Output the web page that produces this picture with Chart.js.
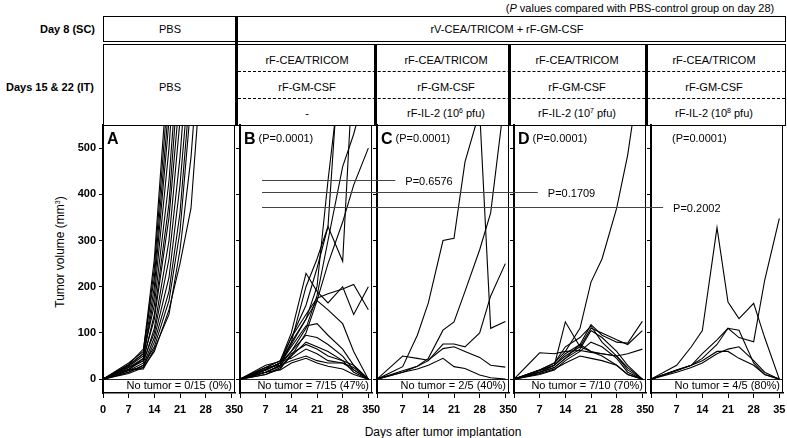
<!DOCTYPE html>
<html>
<head>
<meta charset="utf-8">
<script src="https://cdn.jsdelivr.net/npm/chart.js@4.4.0/dist/chart.umd.min.js"></script>
<style>
  html, body { margin: 0; padding: 0; background: #fff; overflow: hidden; }
  body { width: 787px; height: 438px; position: relative; font-family: "Liberation Sans", Arial, sans-serif; color: #000; }
  .box { position: absolute; box-sizing: border-box; border: 1px solid #000; }
  .vbar { position: absolute; width: 3px; background: #000; }
  .dash { position: absolute; height: 0; border-top: 1px dashed #000; }
  .t { position: absolute; transform: translate(-50%, -50%); white-space: nowrap; font-size: 11px; }
  .lbl { position: absolute; transform: translateY(-50%); white-space: nowrap; font-size: 11px; font-weight: bold; text-align: right; }
  sup { font-size: 7px; vertical-align: 4px; line-height: 0; }
  .panel { position: absolute; }
</style>
</head>
<body>
<!-- header table -->
<div class="t" style="left:640px;top:8px;">(<i>P</i> values compared with PBS-control group on day 28)</div>
<div class="box" style="left:103px;top:16px;width:683px;height:26px;"></div>
<div class="box" style="left:103px;top:44px;width:683px;height:82px;"></div>
<div class="vbar" style="left:235px;top:16px;height:110px;"></div>
<div class="vbar" style="left:374px;top:44px;height:82px;"></div>
<div class="vbar" style="left:508px;top:44px;height:82px;"></div>
<div class="vbar" style="left:645px;top:44px;height:82px;"></div>
<div class="dash" style="left:238px;top:71px;width:547px;"></div>
<div class="dash" style="left:238px;top:98px;width:547px;"></div>

<div class="lbl" style="right:692px;top:29px;">Day 8 (SC)</div>
<div class="lbl" style="right:693px;top:87px;">Days 15 &amp; 22 (IT)</div>

<div class="t" style="left:170px;top:29px;">PBS</div>
<div class="t" style="left:507px;top:29px;">rV-CEA/TRICOM + rF-GM-CSF</div>
<div class="t" style="left:170px;top:87px;">PBS</div>

<div class="t" style="left:307px;top:60px;">rF-CEA/TRICOM</div>
<div class="t" style="left:307px;top:87px;">rF-GM-CSF</div>
<div class="t" style="left:307px;top:113px;">-</div>

<div class="t" style="left:446px;top:60px;">rF-CEA/TRICOM</div>
<div class="t" style="left:446px;top:87px;">rF-GM-CSF</div>
<div class="t" style="left:446px;top:113px;">rF-IL-2 (10<sup>6</sup> pfu)</div>

<div class="t" style="left:577px;top:60px;">rF-CEA/TRICOM</div>
<div class="t" style="left:577px;top:87px;">rF-GM-CSF</div>
<div class="t" style="left:577px;top:113px;">rF-IL-2 (10<sup>7</sup> pfu)</div>

<div class="t" style="left:714px;top:60px;">rF-CEA/TRICOM</div>
<div class="t" style="left:714px;top:87px;">rF-GM-CSF</div>
<div class="t" style="left:714px;top:113px;">rF-IL-2 (10<sup>8</sup> pfu)</div>

<!-- axis titles -->
<div class="t" style="left:60px;top:252px;font-size:12px;transform:translate(-50%,-50%) rotate(-90deg);">Tumor volume (mm<sup>3</sup>)</div>
<div class="t" style="left:443px;top:432px;font-size:12px;">Days after tumor implantation</div>

<script>
// measurement days, shared by every mouse
const DAYS = [0, 7, 11, 14, 18, 21, 24, 28, 31, 35];
const X_TICKS = [0, 7, 14, 21, 28, 35];
const Y_TICKS = [0, 100, 200, 300, 400, 500];

const LETTERS = ['A', 'B', 'C', 'D', ''];
const P_PANEL = ['', '(P=0.0001)', '(P=0.0001)', '(P=0.0001)', '(P=0.0001)'];
const NO_TUMOR = ['No tumor = 0/15 (0%)', 'No tumor = 7/15 (47%)', 'No tumor = 2/5 (40%)',
                  'No tumor = 7/10 (70%)', 'No tumor = 4/5 (80%)'];

// A: PBS control
const GROUP_A = [
  [0, 35, 60, 260, 700],
  [0, 30, 55, 240, 650],
  [0, 32, 65, 220, 600],
  [0, 28, 50, 200, 560, 900],
  [0, 25, 45, 180, 500, 850],
  [0, 30, 55, 160, 430, 750],
  [0, 22, 40, 140, 380, 700],
  [0, 20, 45, 130, 350, 620],
  [0, 18, 35, 110, 300, 560],
  [0, 25, 40, 100, 260, 480, 800],
  [0, 15, 30, 90, 220, 420, 700],
  [0, 20, 25, 80, 190, 360, 650],
  [0, 15, 30, 70, 170, 320, 600],
  [0, 12, 25, 60, 150, 250, 370, 800],
  [0, 20, 22, 65, 140, 280, 480, 900]
];
// B: rF-CEA/TRICOM + rF-GM-CSF
const GROUP_B = [
  [0, 20, 35, 75, 130, 200, 430, 700],
  [0, 25, 40, 90, 160, 240, 330, 800],
  [0, 15, 30, 60, 110, 180, 300, 460, 530, 650],
  [0, 10, 25, 50, 100, 170, 250, 340, 420, 500],
  [0, 20, 35, 80, 200, 260, 330, 255, 700],
  [0, 25, 40, 100, 229, 190, 165, 200, 140, 200],
  [0, 20, 35, 90, 140, 175, 185, 195, 205, 150],
  [0, 15, 30, 80, 130, 170, 150, 120, 60, 0],
  [0, 20, 35, 60, 95, 90, 75, 50, 20, 0],
  [0, 15, 28, 50, 80, 70, 60, 40, 15, 0],
  [0, 30, 38, 45, 65, 55, 40, 35, 25, 0],
  [0, 10, 22, 55, 75, 65, 50, 40, 30, 0],
  [0, 22, 35, 70, 115, 120, 95, 65, 30, 0],
  [0, 25, 30, 40, 50, 40, 35, 35, 20, 0],
  [0, 15, 20, 35, 45, 35, 28, 22, 10, 0]
];
// C: + rF-IL-2 10^6 pfu
const GROUP_C = [
  [0, 27, 95, 165, 300, 305, 470, 580, 110, 125],
  [0, 15, 28, 45, 106, 124, 190, 280, 360, 620],
  [0, 18, 28, 40, 76, 76, 70, 100, 180, 250],
  [0, 50, 45, 41, 66, 70, 60, 47, 30, 26],
  [0, 15, 22, 30, 45, 27, 23, 9, 3, 0]
];
// D: + rF-IL-2 10^7 pfu
const GROUP_D = [
  [0, 20, 35, 60, 110, 210, 260, 370, 485, 700],
  [0, 15, 25, 45, 75, 118, 95, 80, 78, 125],
  [0, 20, 30, 50, 70, 110, 100, 85, 75, 105],
  [0, 57, 55, 60, 62, 58, 55, 50, 55, 65],
  [0, 15, 30, 124, 70, 60, 50, 30, 10, 0],
  [0, 20, 35, 70, 90, 115, 80, 50, 20, 0],
  [0, 15, 25, 45, 65, 105, 90, 60, 30, 0],
  [0, 10, 20, 40, 60, 80, 70, 45, 15, 0],
  [0, 18, 30, 55, 75, 60, 55, 50, 25, 0],
  [0, 12, 22, 35, 50, 45, 40, 30, 10, 0]
];
// E: + rF-IL-2 10^8 pfu
const GROUP_E = [
  [0, 30, 70, 105, 328, 167, 131, 164, 90, 0],
  [0, 20, 30, 55, 85, 110, 90, 81, 214, 348],
  [0, 18, 30, 45, 75, 110, 106, 35, 10, 0],
  [0, 15, 25, 35, 55, 65, 70, 40, 15, 0],
  [0, 20, 30, 40, 60, 60, 45, 30, 10, 0]
];
const GROUPS = [GROUP_A, GROUP_B, GROUP_C, GROUP_D, GROUP_E];

// P-value brackets drawn from panel B across to the compared panel
const P_TEXT = ['P=0.6576', 'P=0.1709', 'P=0.2002'];
const P_LEVEL = [432, 405, 372];
const P_END_PANEL = [2, 3, 4];
const P_END_DAY = [5, 6.5, 3.3];
const P_START_DAY = 6;

// layout
const PANEL_LEFT = [103, 240, 377, 514, 651];
const PANEL_W = 132;
const FONT = '"Liberation Sans", Arial, sans-serif';

function panelPlugin(i) {
  return {
    id: 'panel' + i,
    beforeDatasetsDraw(chart) {
      const ctx = chart.ctx, a = chart.chartArea, ys = chart.scales.y;
      const y0 = Math.round(ys.getPixelForValue(0)) + 0.5;
      ctx.save();
      ctx.strokeStyle = '#222'; ctx.lineWidth = 1;
      ctx.beginPath(); ctx.moveTo(a.left, y0); ctx.lineTo(a.right, y0); ctx.stroke();
      ctx.restore();
    },
    afterDraw(chart) {
      const ctx = chart.ctx, a = chart.chartArea, xs = chart.scales.x, ys = chart.scales.y;
      ctx.save();
      // top + right frame
      ctx.strokeStyle = '#000'; ctx.lineWidth = 1;
      ctx.beginPath();
      ctx.moveTo(a.left, a.top + 0.5); ctx.lineTo(a.right - 0.5, a.top + 0.5); ctx.lineTo(a.right - 0.5, a.bottom);
      ctx.stroke();

      // panel letter + P value
      ctx.fillStyle = '#000';
      ctx.textBaseline = 'middle';
      ctx.font = 'bold 16px ' + FONT;
      const ty = a.top + 15;
      let tx = a.left + 4;
      if (LETTERS[i]) { ctx.fillText(LETTERS[i], tx, ty); tx += ctx.measureText(LETTERS[i]).width + 3; }
      else tx += 17;
      ctx.font = '11px ' + FONT;
      if (P_PANEL[i]) ctx.fillText(P_PANEL[i], tx, ty - 1);

      // tumour-free count
      ctx.textAlign = 'right';
      ctx.fillText(NO_TUMOR[i], a.right - 3, ys.getPixelForValue(0) + 7);

      // P brackets
      ctx.textAlign = 'left';
      ctx.strokeStyle = '#444'; ctx.lineWidth = 1;
      P_TEXT.forEach((txt, k) => {
        if (i < 1 || i > P_END_PANEL[k]) return;
        const y = Math.round(ys.getPixelForValue(P_LEVEL[k])) + 0.5;
        const x0 = i === 1 ? xs.getPixelForValue(P_START_DAY) : a.left - 5;
        const x1 = i === P_END_PANEL[k] ? xs.getPixelForValue(P_END_DAY[k]) : a.right;
        ctx.beginPath(); ctx.moveTo(x0, y); ctx.lineTo(x1, y); ctx.stroke();
        if (i === P_END_PANEL[k]) { ctx.fillText(txt, x1 + 10, y + 1); }
      });
      ctx.restore();
    }
  };
}

function makePanel(i) {
  const isA = i === 0;
  const axisW = isA ? 103 : 4;
  const padL = isA ? 0 : 10;
  const wrap = document.createElement('div');
  wrap.className = 'panel';
  const left = PANEL_LEFT[i] - axisW - padL;
  wrap.style.left = left + 'px';
  wrap.style.top = '120px';
  wrap.style.width = (padL + axisW + PANEL_W + 10) + 'px';
  wrap.style.height = '298px';
  const cv = document.createElement('canvas');
  wrap.appendChild(cv);
  document.body.appendChild(wrap);

  new Chart(cv, {
    type: 'line',
    data: {
      datasets: GROUPS[i].map(vals => ({
        data: vals.map((v, j) => ({ x: DAYS[j], y: v })),
        borderColor: '#000', borderWidth: 1.1, pointRadius: 0, fill: false, tension: 0
      }))
    },
    options: {
      responsive: true, maintainAspectRatio: false, animation: false,
      layout: { padding: { left: padL, right: 10, top: 5, bottom: 0 } },
      plugins: { legend: { display: false }, tooltip: { enabled: false } },
      events: [],
      scales: {
        x: {
          type: 'linear', min: 0, max: 36,
          afterBuildTicks: s => { s.ticks = X_TICKS.map(v => ({ value: v })); },
          afterFit: s => { s.height = 25; s.paddingLeft = 0; s.paddingRight = 0; },
          grid: { drawOnChartArea: false, tickLength: 5, tickColor: '#000', tickWidth: 1 },
          border: { color: '#000', width: 1.5 },
          ticks: { color: '#000', padding: 5, maxRotation: 0, autoSkip: false,
                   font: { family: FONT, size: 11, weight: 'bold' } }
        },
        y: {
          type: 'linear', min: -30, max: 550,
          afterBuildTicks: s => { s.ticks = Y_TICKS.map(v => ({ value: v })); },
          afterFit: s => { s.width = axisW; s.paddingTop = 0; s.paddingBottom = 0; },
          grid: { drawOnChartArea: false, tickLength: 4, tickColor: '#000', tickWidth: 1 },
          border: { color: '#000', width: 2 },
          ticks: { display: isA, color: '#000', padding: 3,
                   font: { family: FONT, size: 11, weight: 'bold' } }
        }
      }
    },
    plugins: [panelPlugin(i)]
  });
}

GROUPS.forEach((g, i) => makePanel(i));
</script>
</body>
</html>
